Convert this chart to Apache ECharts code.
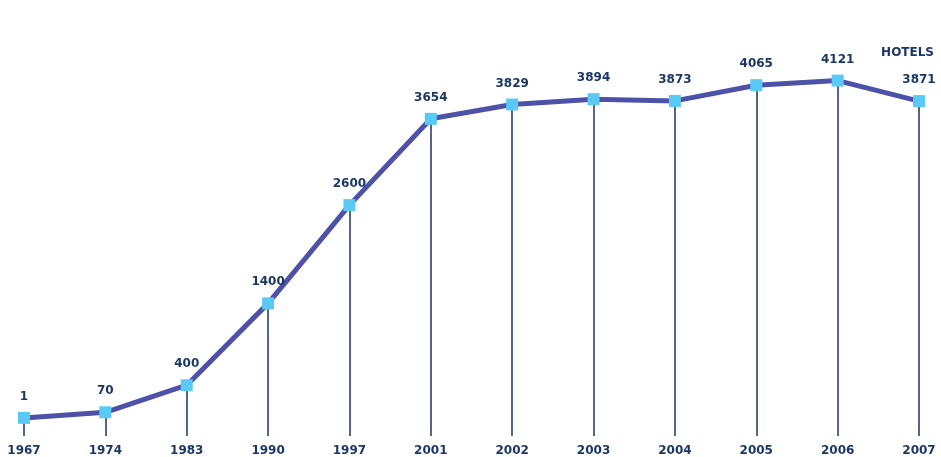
<!DOCTYPE html>
<html>
<head>
<meta charset="utf-8">
<style>
  html, body { margin: 0; padding: 0; background: #fff; }
  #chart { width: 941px; height: 457px; }
</style>
<script src="https://cdn.jsdelivr.net/npm/echarts@6/dist/echarts.min.js"></script>
</head>
<body>
<div id="chart"></div>
<script>
  'use strict'
  /* data */
  var years = ['1967', '1974', '1983', '1990', '1997', '2001', '2002', '2003', '2004', '2005', '2006', '2007'];
  var hotels = [1, 70, 400, 1400, 2600, 3654, 3829, 3894, 3873, 4065, 4121, 3871];
  var seriesName = 'HOTELS';

  var yMin = -220;
  var textColor = '#1c3767';
  var font = 'DejaVu Sans';

  /* drop lines from each point down to the bottom */
  var dropLines = hotels.map(function (v, i) {
    return [{ coord: [i, yMin] }, { coord: [i, v] }];
  });

  var chart = echarts.init(document.getElementById('chart'));
  var option = {
    animation: false,
    title: {
      text: seriesName,
      right: 2,
      top: 42,
      textStyle: {
        fontFamily: font,
        fontSize: 12,
        fontWeight: 'bold',
        color: textColor
      }
    },
    grid: {
      top: 25,
      bottom: 20,
      left: 24,
      right: 22
    },
    xAxis: {
      type: 'category',
      data: years,
      boundaryGap: false,
      axisLine: { show: false },
      axisTick: { show: false },
      axisLabel: {
        margin: 9,
        fontFamily: font,
        fontSize: 12,
        fontWeight: 'bold',
        color: textColor
      }
    },
    yAxis: {
      type: 'value',
      min: yMin,
      max: 4800,
      show: false
    },
    series: [{
      name: seriesName,
      type: 'line',
      data: hotels,
      symbol: 'rect',
      symbolSize: 12,
      itemStyle: { color: '#5bc9f5' },
      lineStyle: { color: '#4d52a8', width: 5 },
      label: {
        show: true,
        position: 'top',
        distance: 9,
        fontFamily: font,
        fontSize: 12,
        fontWeight: 'bold',
        color: textColor
      },
      markLine: {
        silent: true,
        symbol: ['none', 'none'],
        label: { show: false },
        lineStyle: { color: '#1a3463', width: 1.5, type: 'solid', opacity: 1 },
        data: dropLines,
        z: 1
      },
      z: 3
    }]
  };
  chart.setOption(option);
</script>
</body>
</html>
